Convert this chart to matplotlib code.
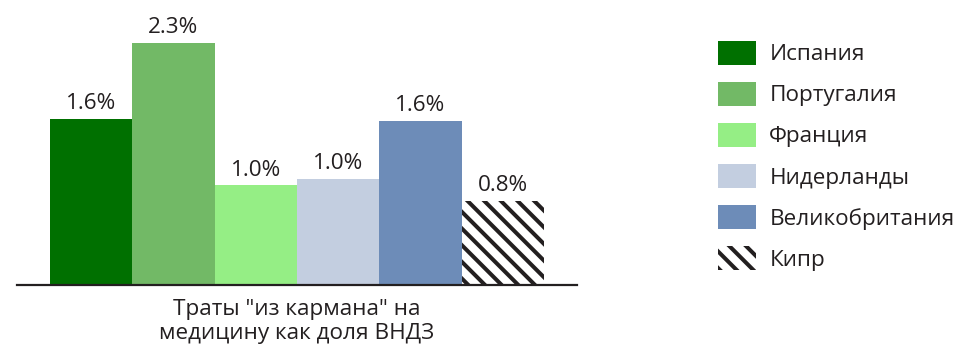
import matplotlib
matplotlib.use('Agg')
import matplotlib.pyplot as plt
from matplotlib.patches import Patch

countries = ['Испания', 'Португалия', 'Франция', 'Нидерланды', 'Великобритания', 'Кипр']
values = [1.60, 2.33, 0.96, 1.02, 1.58, 0.81]
colors = ['#007000', '#72b966', '#95ee85', '#c3cee0', '#6d8cb8', 'white']
xlabel = 'Траты "из кармана" на\nмедицину как доля ВНДЗ'

txtcol = '#231f20'
plt.rcParams['font.family'] = ['Open Sans', 'DejaVu Sans']
plt.rcParams['hatch.linewidth'] = 2.9

fig = plt.figure(figsize=(9.58, 3.55), dpi=100)
ax = fig.add_axes([17/958, 70/355, 560/958, 265/355])

fs = 16.2

for i, v in enumerate(values):
    if countries[i] == 'Кипр':
        ax.bar(i, v, width=1.0, color='white', edgecolor=txtcol, hatch='\\\\', linewidth=0)
    else:
        ax.bar(i, v, width=1.0, color=colors[i], linewidth=0)
    ax.annotate(f'{v:.1f}%', (i, v), xytext=(0, 3.5), textcoords='offset points',
                ha='center', va='bottom', fontsize=fs, color=txtcol)

ax.set_xlim(-0.9, 5.9)
ax.set_ylim(0, 2.554)
for s in ['top', 'right', 'left']:
    ax.spines[s].set_visible(False)
ax.spines['bottom'].set_linewidth(1.6)
ax.spines['bottom'].set_color(txtcol)
ax.set_yticks([])
ax.set_xticks([])
ax.set_xlabel(xlabel, fontsize=fs, color=txtcol, labelpad=10, linespacing=1.22)

handles = []
for i, c in enumerate(countries):
    if c == 'Кипр':
        handles.append(Patch(facecolor='white', edgecolor=txtcol, hatch='\\\\', linewidth=0, label=c))
    else:
        handles.append(Patch(facecolor=colors[i], linewidth=0, label=c))
fig.legend(handles=handles, loc='upper left', bbox_to_anchor=(718/958, 1 - 41/355),
           bbox_transform=fig.transFigure, frameon=False, fontsize=fs, borderpad=0,
           handlelength=1.68, handleheight=1.24, labelspacing=0.74, handletextpad=0.6,
           labelcolor=txtcol, borderaxespad=0)

fig.savefig('out.png', dpi=100)
